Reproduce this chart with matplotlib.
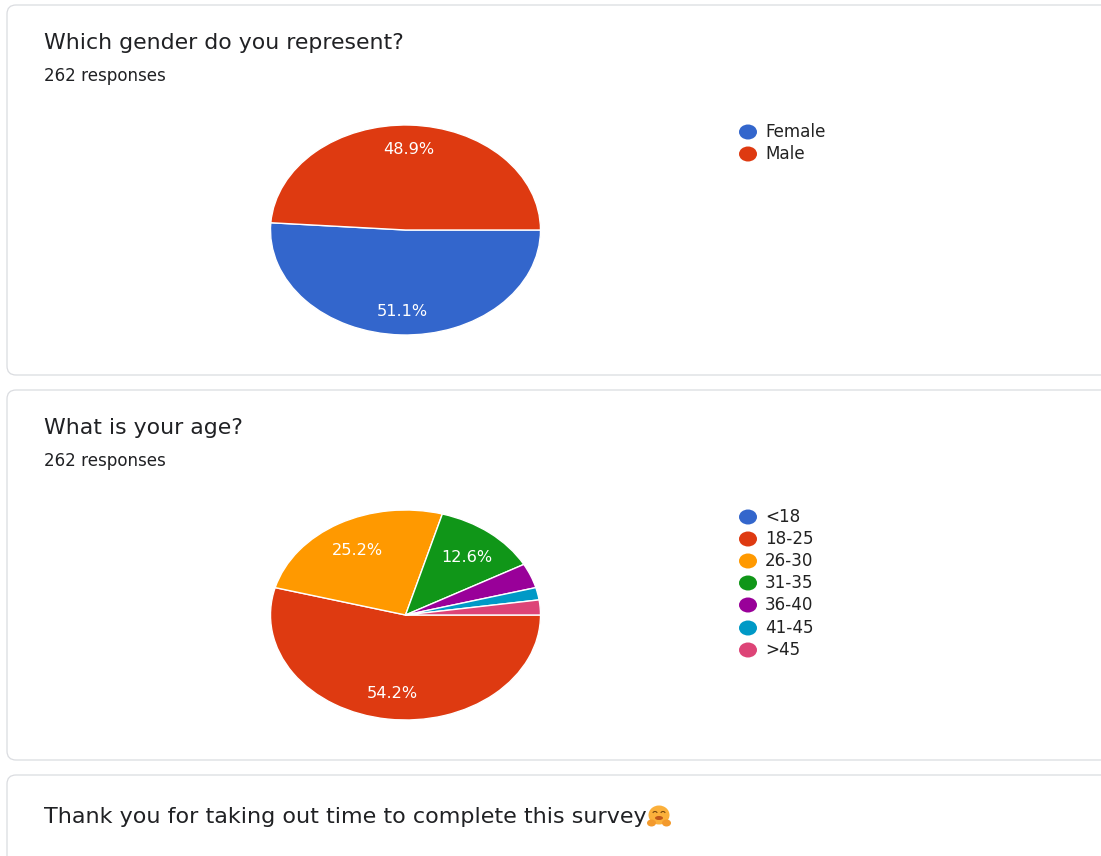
import matplotlib
matplotlib.use('Agg')
import matplotlib.pyplot as plt
from matplotlib.patches import FancyBboxPatch, Ellipse, Arc

W, H = 1101, 856

gender_labels = ['Female', 'Male']
gender_values = [51.1, 48.9]
gender_colors = ['#3366cc', '#de3a11']

age_labels = ['<18', '18-25', '26-30', '31-35', '36-40', '41-45', '>45']
age_values = [0, 54.2, 25.2, 12.6, 3.8, 1.9, 2.3]
age_colors = ['#3366cc', '#de3a11', '#ff9900', '#109618', '#990099', '#0099c6', '#dd4477']

# source picture is stretched sideways, DejaVu is the closest in width
plt.rcParams['font.family'] = ['DejaVu Sans']


def card(bg, y0, y1):
    box = FancyBboxPatch((7, y0), 1130, y1 - y0, boxstyle='round,pad=0,rounding_size=9',
                         fc='white', ec='#dadce0', lw=0.9)
    bg.add_patch(box)


def pie_chart(fig, cx, cy, rx, ry, values, colors, dist, shift):
    m = 1.02
    ax = fig.add_axes([(cx - m * rx) / W, 1 - (cy + m * ry) / H, 2 * m * rx / W, 2 * m * ry / H])
    wedges, texts, autotexts = ax.pie(values, colors=colors, startangle=0, counterclock=False,
                                      autopct=lambda p: '%.1f%%' % p if p > 5 else '',
                                      pctdistance=dist,
                                      wedgeprops={'edgecolor': 'white', 'linewidth': 1.0},
                                      textprops={'color': 'white', 'fontsize': 11.6})
    for t in autotexts:
        x, y = t.get_position()
        t.set_position((x, y - shift))
    ax.set_aspect('auto')
    ax.set_xlim(-m, m)
    ax.set_ylim(-m, m)
    return ax


def legend(bg, x, ys, labels, colors):
    for y, lab, col in zip(ys, labels, colors):
        bg.add_patch(Ellipse((x, y), 18, 15, fc=col, ec='none'))
        bg.text(x + 17, y, lab, fontsize=12.1, color='#222222', va='center', ha='left')


fig = plt.figure(figsize=(W / 100, H / 100), dpi=100, facecolor='white')

# pixel coordinate layer for cards and text
bg = fig.add_axes([0, 0, 1, 1])
bg.set_xlim(0, W)
bg.set_ylim(H, 0)
bg.axis('off')

card(bg, 5, 375)
card(bg, 390, 760)
card(bg, 775, 900)

bg.text(44, 43, 'Which gender do you represent?', fontsize=15.8, color='#202124', va='center')
bg.text(44, 76, '262 responses', fontsize=12.1, color='#202124', va='center')
bg.text(44, 428, 'What is your age?', fontsize=15.8, color='#202124', va='center')
bg.text(44, 461, '262 responses', fontsize=12.1, color='#202124', va='center')
bg.text(44, 817, 'Thank you for taking out time to complete this survey', fontsize=16.0,
        color='#202124', va='center')

# hugging face emoji, no colour emoji font here
bg.add_patch(Ellipse((659, 815), 21, 19, fc='#fbb03b', ec='none'))
bg.add_patch(Ellipse((651.5, 823), 9, 7, fc='#f39a2d', ec='none'))
bg.add_patch(Ellipse((666.5, 823), 9, 7, fc='#f39a2d', ec='none'))
bg.add_patch(Arc((655, 813), 4, 3, theta1=180, theta2=360, color='#7a4a10', lw=0.8))
bg.add_patch(Arc((663, 813), 4, 3, theta1=180, theta2=360, color='#7a4a10', lw=0.8))
bg.add_patch(Ellipse((659, 818), 8, 4, fc='#c0561a', ec='none'))

legend(bg, 748, [132, 154], gender_labels, gender_colors)
legend(bg, 748, [517, 539, 561, 583, 605, 628, 650], age_labels, age_colors)

pie_chart(fig, 405.5, 230, 135, 105, gender_values, gender_colors, 0.77, 0.005)
pie_chart(fig, 405.5, 615, 135, 105, age_values, age_colors, 0.73, 0.025)

fig.savefig('out.png', dpi=100)
